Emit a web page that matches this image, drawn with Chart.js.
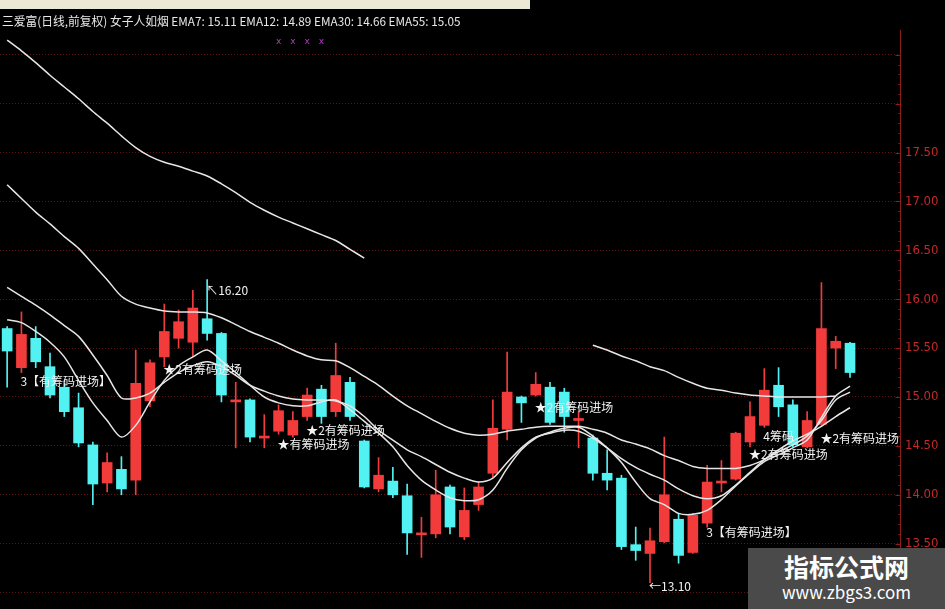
<!DOCTYPE html>
<html>
<head>
<meta charset="utf-8">
<script src="https://cdn.jsdelivr.net/npm/chart.js@4.4.1/dist/chart.umd.min.js"></script>
<style>
  html, body { margin: 0; padding: 0; background: #000; overflow: hidden; }
  #wrap { position: relative; width: 945px; height: 609px; background: #000; }
  #chart { position: absolute; left: 0; top: 0; }
  #strip { position: absolute; left: 0; top: 0; width: 530px; height: 9px; background: #ebe8d6; }
  #title { position: absolute; left: 2px; top: 12px; font: 12px "Noto Sans CJK SC", sans-serif; color: #e8e8e8;
           white-space: nowrap; transform-origin: 0 0; transform: scaleX(0.98); }
  #logo { position: absolute; left: 748px; top: 548px; width: 197px; height: 61px; background: #4a4a4a;
          color: #fff; text-align: center; font-family: "Noto Sans CJK SC", sans-serif; }
  #logo .big { font-size: 25px; font-weight: bold; line-height: 30px; margin-top: 3px; }
  #logo .small { font-size: 17px; line-height: 22px; }
</style>
</head>
<body>
<div id="wrap">
  <canvas id="chart" width="945" height="609"></canvas>
  <div id="strip"></div>
  <div id="title">三爱富(日线,前复权) 女子人如烟 EMA7: 15.11 EMA12: 14.89 EMA30: 14.66 EMA55: 15.05</div>
  <div id="logo"><div class="big">指标公式网</div><div class="small">www.zbgs3.com</div></div>
</div>
<script>
// daily candles
const open  = [15.70,15.30,15.60,15.31,15.10,14.89,14.51,14.12,14.26,14.15,
               14.96,15.41,15.60,15.56,15.80,15.65,14.95,14.97,14.58,14.65,
               14.61,14.80,15.08,14.85,15.15,14.55,14.06,14.14,13.99,13.59,
               13.60,14.08,13.57,13.90,14.22,14.67,15.00,15.02,15.10,15.05,
               14.76,14.58,14.22,14.17,13.49,13.40,13.52,13.75,13.41,13.71,
               14.12,14.16,14.54,14.71,15.12,14.92,14.49,14.72,15.50,15.55];
const high  = [15.72,15.87,15.72,15.45,15.14,15.04,14.54,14.43,14.39,15.48,
               15.38,15.95,15.89,16.09,16.20,15.66,15.15,14.98,14.82,14.92,
               14.85,15.09,15.12,15.55,15.20,14.56,14.38,14.28,14.11,13.77,
               14.25,14.10,14.07,14.13,14.97,15.46,15.01,15.25,15.15,15.09,
               14.85,14.61,14.46,14.20,13.67,13.66,14.59,13.81,13.81,14.30,
               14.35,14.64,14.95,15.29,15.30,14.97,14.85,16.17,15.62,15.56];
const low   = [15.10,15.25,15.30,14.99,14.80,14.49,13.90,14.03,14.00,14.00,
               14.90,15.31,15.50,15.41,15.58,14.95,14.48,14.54,14.48,14.62,
               14.59,14.76,14.73,14.80,14.76,14.07,14.03,13.97,13.39,13.36,
               13.56,13.60,13.54,13.84,14.18,14.56,14.74,15.01,14.72,14.64,
               14.48,14.15,14.05,13.44,13.33,13.10,13.51,13.30,13.40,13.67,
               14.03,14.15,14.49,14.69,14.80,14.49,14.48,14.71,15.29,15.20];
const close = [15.47,15.64,15.36,15.02,14.85,14.53,14.11,14.33,14.06,15.14,
               15.35,15.67,15.77,15.91,15.65,15.02,14.96,14.59,14.60,14.86,
               14.76,15.02,14.80,15.22,14.80,14.08,14.20,14.00,13.61,13.60,
               14.00,13.67,13.84,14.08,14.68,15.05,14.94,15.13,14.74,14.80,
               14.78,14.22,14.15,13.47,13.43,13.53,14.00,13.38,13.79,14.13,
               14.13,14.63,14.80,15.07,14.90,14.51,14.76,15.70,15.57,15.25];

// moving average lines
const ema7  = [15.79,15.76,15.67,15.56,15.41,15.17,14.94,14.76,14.59,14.71,
               14.95,15.17,15.32,15.41,15.48,15.37,15.25,15.12,15.00,14.94,
               14.91,14.91,14.95,14.97,14.87,14.75,14.63,14.49,14.30,14.15,
               14.05,13.97,13.94,13.95,14.05,14.27,14.46,14.58,14.64,14.68,
               14.69,14.60,14.48,14.33,14.13,13.96,13.90,13.81,13.80,13.84,
               13.95,14.09,14.22,14.34,14.41,14.48,14.56,14.79,15.01,15.11];
const ema12 = [16.12,16.03,15.94,15.84,15.73,15.62,15.43,15.22,14.99,14.99,
               15.04,15.15,15.25,15.32,15.36,15.31,15.22,15.12,15.06,15.01,
               14.98,14.97,14.97,14.96,14.91,14.80,14.66,14.56,14.46,14.39,
               14.31,14.23,14.17,14.13,14.17,14.33,14.48,14.59,14.63,14.66,
               14.65,14.58,14.48,14.37,14.28,14.21,14.15,14.06,13.99,13.96,
               13.99,14.10,14.23,14.36,14.46,14.55,14.62,14.70,14.80,14.89];
const ema55 = [17.17,17.03,16.89,16.77,16.64,16.52,16.36,16.20,16.03,15.95,
               15.91,15.88,15.87,15.87,15.86,15.81,15.74,15.67,15.61,15.55,
               15.48,15.42,15.38,15.37,15.30,15.21,15.12,15.01,14.91,14.83,
               14.75,14.68,14.63,14.61,14.62,14.65,14.67,14.69,14.70,14.70,
               14.70,14.67,14.63,14.56,14.52,14.47,14.40,14.35,14.29,14.27,
               14.27,14.27,14.30,14.36,14.44,14.51,14.60,14.76,14.97,15.05];
// the broken upper line (two pieces)
const upperLine = [18.65,18.54,18.42,18.29,18.17,18.05,17.92,17.80,17.67,17.55,
                   17.46,17.40,17.36,17.31,17.26,17.18,17.09,16.99,16.91,16.84,
                   16.78,16.72,16.66,16.60,16.51,16.42,null,null,null,null,
                   null,null,null,null,null,null,null,null,null,null,
                   null,15.53,15.48,15.42,15.37,15.31,15.27,15.20,15.14,15.09,
                   15.07,15.04,15.02,15.01,15.00,15.00,15.00,15.00,15.01,null];

const slots = 63;   // 60 candles + empty room before the axis
const tickValues = [13.0,13.5,14.0,14.5,15.0,15.5,16.0,16.5,17.0,17.5,18.0,18.5];
const maxLabel = 17.5;

// text signals on the chart: candle index, price, text
const notes = [
  {i: 1,  v: 15.16, text: '3【有筹码进场】'},
  {i: 11, v: 15.28, text: '★2有筹码进场'},
  {i: 19, v: 14.51, text: '★有筹码进场'},
  {i: 21, v: 14.66, text: '★2有筹码进场'},
  {i: 37, v: 14.89, text: '★2有筹码进场'},
  {i: 53, v: 14.60, text: '4筹码'},
  {i: 52, v: 14.41, text: '★2有筹码进场'},
  {i: 57, v: 14.58, text: '★2有筹码进场'},
  {i: 49, v: 13.62, text: '3【有筹码进场】'},
  {i: 14, v: 16.09, text: '↖16.20'},
  {i: 45, v: 13.06, text: '←13.10'}
];
const marks = [19, 20, 21, 22];
const markLevel = 18.63;

const RED = '#f23b3b';
const CYAN = '#52f2f2';
const colors = open.map((o, k) => close[k] >= o ? RED : CYAN);
const bodies = open.map((o, k) => [o, close[k]]);
const wicks = low.map((l, k) => [l, high[k]]);
const labels = [];
for (let k = 0; k < slots; k++) labels.push(String(k));

// text + marks drawn through the scales
const notesPlugin = {
  id: 'notes',
  afterDatasetsDraw(chart) {
    const {ctx, scales: {x, y}} = chart;
    ctx.save();
    ctx.font = '12px "Noto Sans CJK SC", sans-serif';
    ctx.fillStyle = '#f2f2f2';
    ctx.textAlign = 'left';
    ctx.textBaseline = 'middle';
    notes.forEach(n => {
      ctx.fillText(n.text, x.getPixelForValue(n.i) - 1, y.getPixelForValue(n.v));
    });
    ctx.font = '9px "DejaVu Sans", sans-serif';
    ctx.fillStyle = '#b33cc4';
    ctx.textAlign = 'center';
    marks.forEach(m => ctx.fillText('x', x.getPixelForValue(m), y.getPixelForValue(markLevel)));
    ctx.restore();
  }
};

// solid axis line + small ticks on the price axis
const minorTicks = {
  id: 'minorTicks',
  afterDraw(chart) {
    const {ctx, scales: {y}} = chart;
    ctx.save();
    ctx.strokeStyle = '#8e1c1c';
    ctx.lineWidth = 1;
    const ax = Math.round(y.left) + 0.5;
    ctx.beginPath();
    ctx.moveTo(ax, y.top);
    ctx.lineTo(ax, y.bottom);
    ctx.stroke();
    for (let k = 130; k <= 185; k++) {
      const py = Math.round(y.getPixelForValue(k / 10)) + 0.5;
      const len = k % 5 === 0 ? 5 : 2;
      ctx.beginPath();
      ctx.moveTo(ax - len, py);
      ctx.lineTo(ax, py);
      ctx.stroke();
    }
    ctx.restore();
  }
};

function lineSet(data) {
  return {type: 'line', data: data, borderColor: '#e6e6e6', borderWidth: 1.5,
          pointRadius: 0, tension: 0.3, spanGaps: false, order: 0};
}

new Chart(document.getElementById('chart'), {
  type: 'bar',
  data: {
    labels: labels,
    datasets: [
      lineSet(ema7),
      lineSet(ema12),
      lineSet(ema55),
      lineSet(upperLine),
      {type: 'bar', data: bodies, backgroundColor: colors, barThickness: 10,
       grouped: false, minBarLength: 2, borderWidth: 0, order: 1},
      {type: 'bar', data: wicks, backgroundColor: colors, barThickness: 1,
       grouped: false, borderWidth: 0, order: 2}
    ]
  },
  options: {
    responsive: false,
    animation: false,
    layout: {padding: {top: 30, left: 0, right: 0, bottom: 0}},
    plugins: {legend: {display: false}, tooltip: {enabled: false}},
    scales: {
      x: {type: 'category', display: false, offset: true},
      y: {
        position: 'right',
        min: 12.832,
        max: 18.753,
        afterBuildTicks: s => { s.ticks = tickValues.map(v => ({value: v})); },
        afterFit: s => { s.width = 45; s.paddingTop = 0; s.paddingBottom = 0; },
        grid: {color: '#5e1414', lineWidth: 1, drawTicks: false},
        border: {display: false, dash: [1, 2]},
        ticks: {
          color: '#c42828',
          padding: 5,
          font: {family: '"Liberation Sans Narrow", "DejaVu Sans Condensed", "Liberation Sans"', size: 13},
          callback: v => v <= maxLabel ? v.toFixed(2) : ''
        }
      }
    }
  },
  plugins: [notesPlugin, minorTicks]
});
</script>
</body>
</html>
